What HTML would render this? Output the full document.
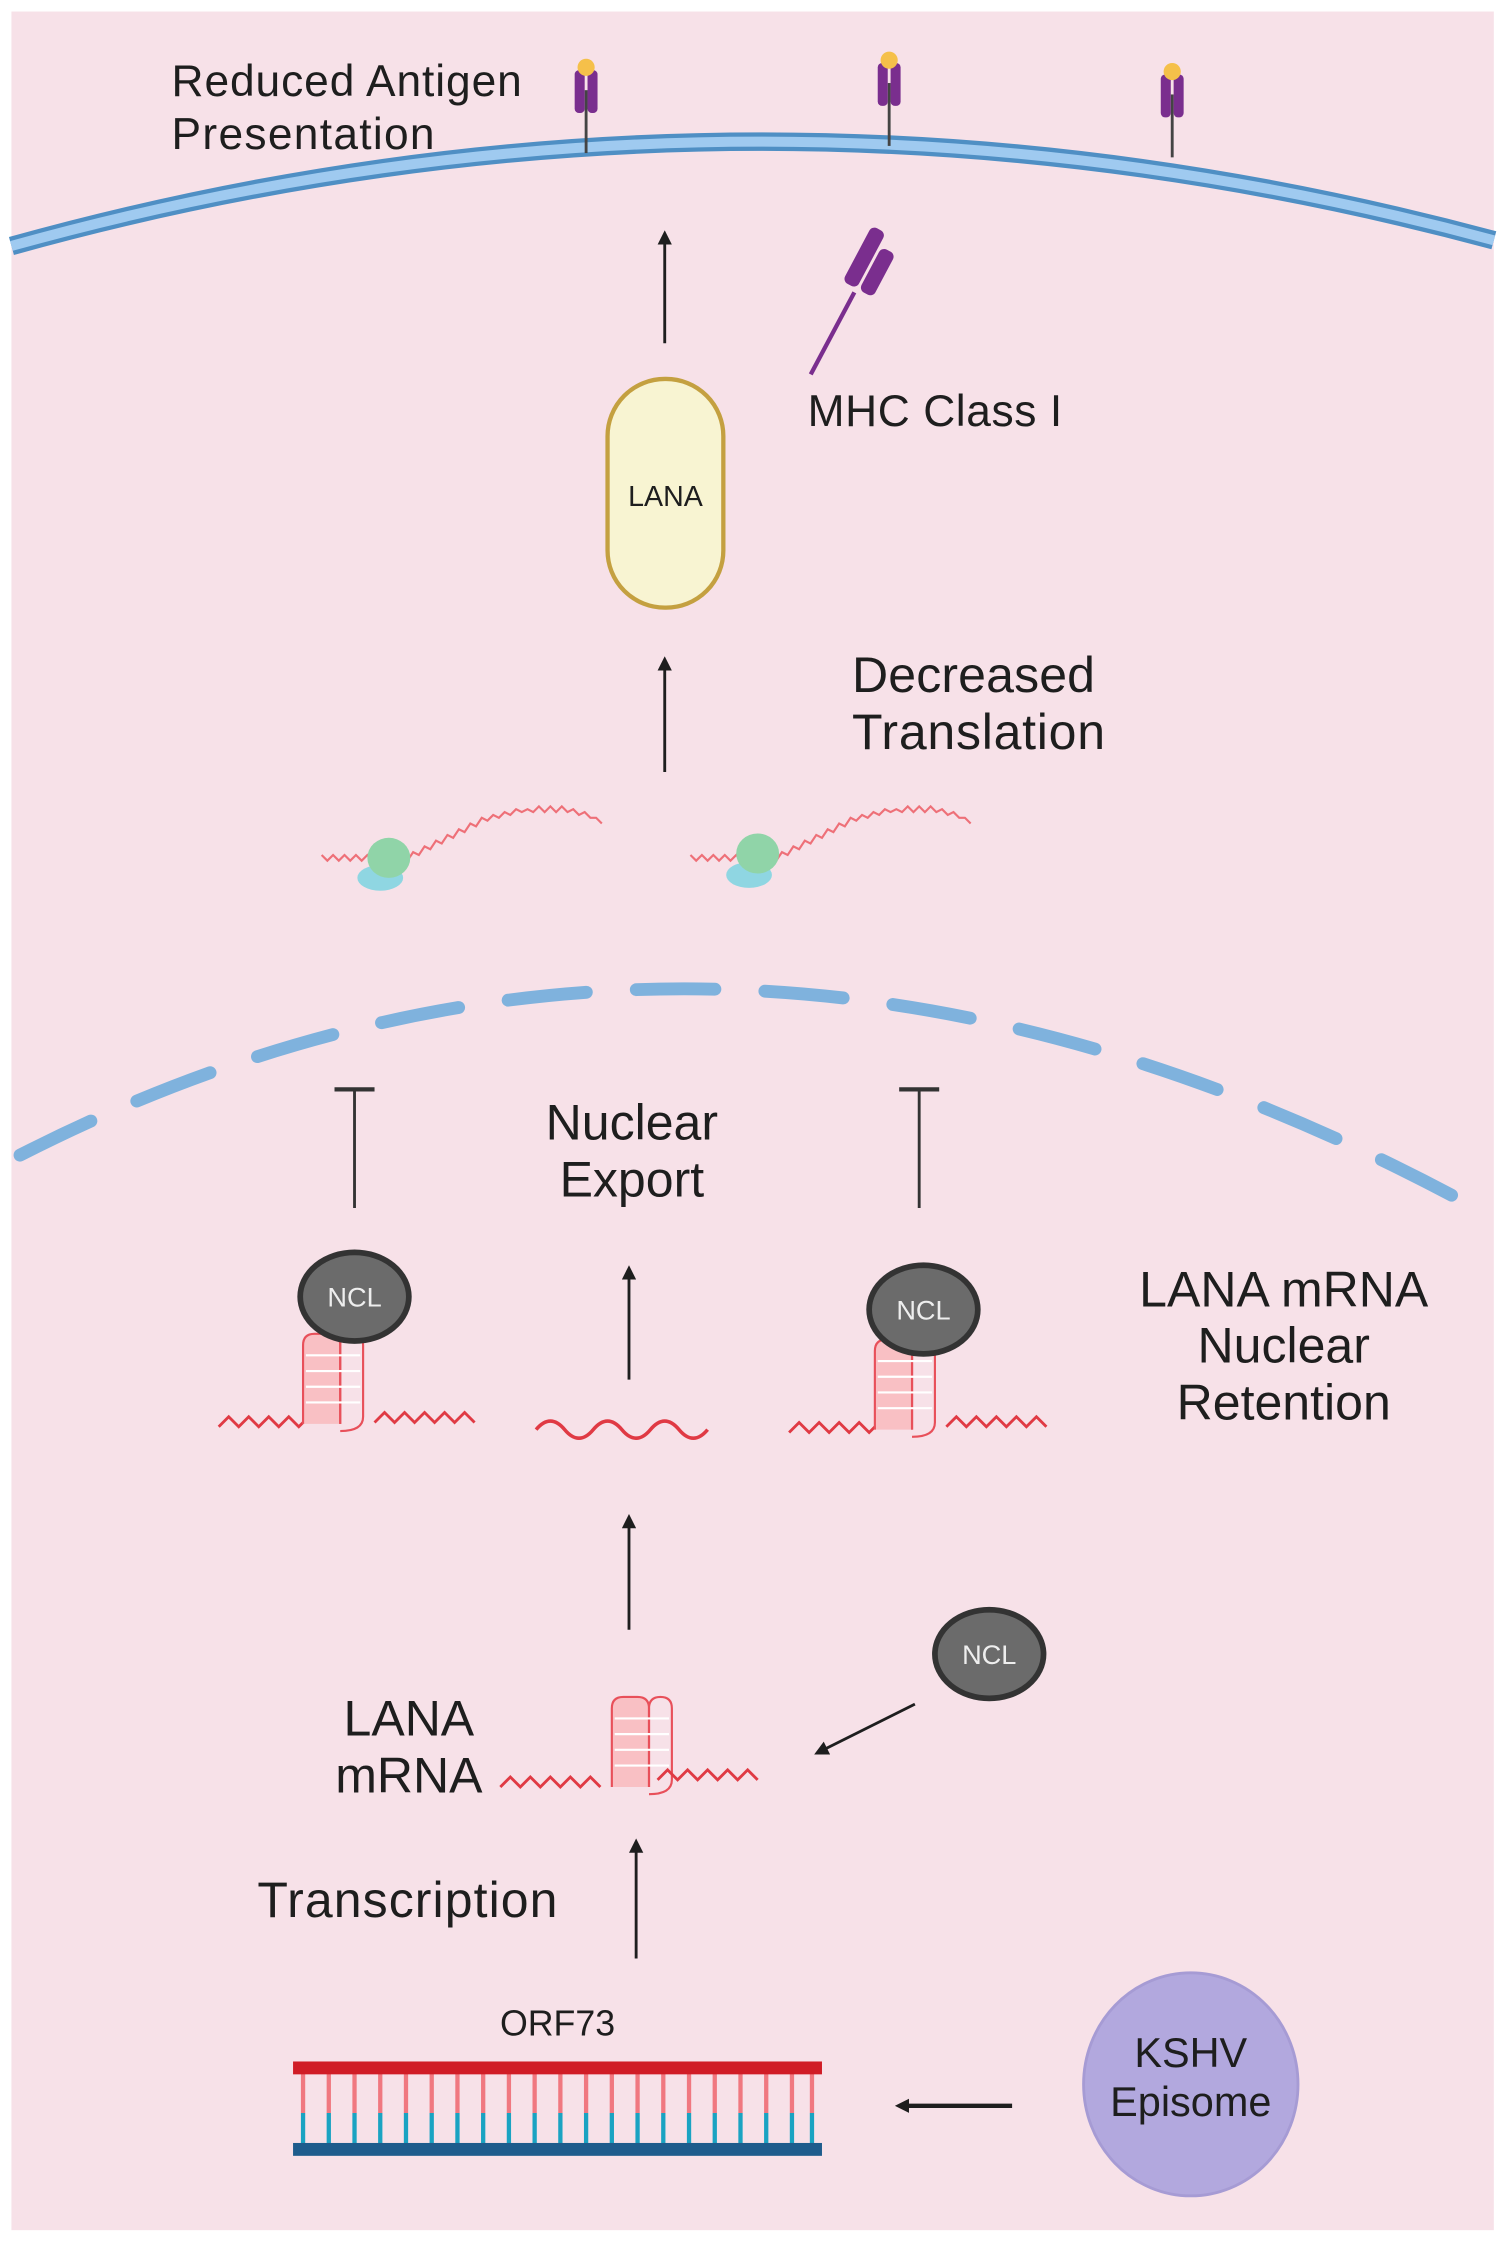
<!DOCTYPE html>
<html><head><meta charset="utf-8"><style>
html,body{margin:0;padding:0;background:#fff;}
svg{display:block;}
text{font-family:"Liberation Sans",sans-serif;fill:#1e1e1e;}
</style></head><body>
<svg width="1501" height="2246" viewBox="0 0 1050 1571" xmlns="http://www.w3.org/2000/svg">
<defs>
<marker id="ah" markerWidth="10" markerHeight="10" refX="5" refY="5" orient="auto" markerUnits="userSpaceOnUse" viewBox="0 0 10 10">
<path d="M0,0 L10,5 L0,10 z" fill="#1e1e1e"/></marker>
<g id="mhc">
<line x1="0" y1="18" x2="0" y2="62" stroke="#444" stroke-width="2"/>
<rect x="-8" y="4" width="7" height="30" rx="3" fill="#7a2e8e"/>
<rect x="1" y="4" width="7" height="30" rx="3" fill="#7a2e8e"/>
<circle cx="0" cy="2" r="6" fill="#f5c04a"/>
</g>
<g id="ncl"><ellipse cx="0" cy="0" rx="38" ry="31" fill="#6b6b6b" stroke="#333" stroke-width="4"/><text x="0" y="7" text-anchor="middle" font-size="19" style="fill:#eee">NCL</text></g>
<g id="g4">
<path d="M0,0 v-55 q0,-8 8,-8 h10 q8,0 8,8 v55" fill="#f9c0c4" stroke="#e8505a" stroke-width="1.5"/>
<path d="M26,0 v-55 q0,-8 8,-8 q8,0 8,8 v50 q0,10 -16,10" fill="none" stroke="#e8505a" stroke-width="1.5"/>
<g stroke="#fff" stroke-width="1.5"><line x1="2" y1="-48" x2="40" y2="-48"/><line x1="2" y1="-37" x2="40" y2="-37"/><line x1="2" y1="-26" x2="40" y2="-26"/><line x1="2" y1="-15" x2="40" y2="-15"/></g>
</g>
</defs>
<rect x="0" y="0" width="1050" height="1571" fill="#fff"/>
<rect x="8" y="8" width="1037" height="1552" fill="#f7e1e8"/>
<path d="M8,172 Q525,28 1045,168" fill="none" stroke="#4f8fc4" stroke-width="13"/>
<path d="M8,172 Q525,28 1045,168" fill="none" stroke="#9fcaf0" stroke-width="7"/>
<use href="#mhc" x="410" y="45"/>
<use href="#mhc" x="622" y="40"/>
<use href="#mhc" x="820" y="48"/>
<text x="120" y="67" font-size="31" textLength="245">Reduced Antigen</text>
<text x="120" y="104" font-size="31" textLength="184">Presentation</text>
<line x1="465" y1="240" x2="465" y2="166" stroke="#1e1e1e" stroke-width="2" marker-end="url(#ah)"/>
<g transform="translate(600,200) rotate(28)">
<line x1="0" y1="5" x2="0" y2="70" stroke="#7a2e8e" stroke-width="3"/>
<rect x="-11" y="-42" width="11" height="44" rx="4" fill="#7a2e8e"/>
<rect x="2" y="-32" width="11" height="34" rx="4" fill="#7a2e8e"/>
</g>
<text x="565" y="298" font-size="31" textLength="178">MHC Class I</text>
<rect x="425" y="265" width="81" height="160" rx="40" fill="#f8f4d2" stroke="#c4a040" stroke-width="3"/>
<text x="465.5" y="354" font-size="20" text-anchor="middle">LANA</text>
<line x1="465" y1="540" x2="465" y2="464" stroke="#1e1e1e" stroke-width="2" marker-end="url(#ah)"/>
<text x="596" y="484" font-size="35" textLength="170">Decreased</text>
<text x="596" y="524" font-size="35" textLength="177">Translation</text>
<g>
<path d="M225,598 l4,4 4,-4 4,4 4,-4 4,4 4,-4 4,4 4,-4 4,4 4,-4 4,4 4,-4 4,4 4,-4 4,4 4,-6 4,2 4,-6 4,2 4,-6 4,2 4,-6 4,2 4,-6 4,2 4,-6 4,2 4,-6 4,2 4,-4 4,2 4,-4 4,2 4,-4 4,2 4,-2 4,2 4,-4 4,4 4,-4 4,4 4,-4 4,4 4,-2 4,4 4,-2 4,4 4,0 4,4" fill="none" stroke="#ee7078" stroke-width="1.5"/>
<ellipse cx="266" cy="614" rx="16" ry="9" fill="#8fd6e2"/><ellipse cx="272" cy="600" rx="15" ry="14" fill="#90d4a8"/>
<path d="M483,598 l4,4 4,-4 4,4 4,-4 4,4 4,-4 4,4 4,-4 4,4 4,-4 4,4 4,-4 4,4 4,-4 4,4 4,-6 4,2 4,-6 4,2 4,-6 4,2 4,-6 4,2 4,-6 4,2 4,-6 4,2 4,-6 4,2 4,-4 4,2 4,-4 4,2 4,-4 4,2 4,-2 4,2 4,-4 4,4 4,-4 4,4 4,-4 4,4 4,-2 4,4 4,-2 4,4 4,0 4,4" fill="none" stroke="#ee7078" stroke-width="1.5"/>
<ellipse cx="524" cy="612" rx="16" ry="9" fill="#8fd6e2"/><ellipse cx="530" cy="597" rx="15" ry="14" fill="#90d4a8"/>
</g>
<path d="M14,808 Q510,555 1045,852" fill="none" stroke="#7fb2dd" stroke-width="9" stroke-dasharray="55,35" stroke-linecap="round"/>
<line x1="248" y1="845" x2="248" y2="762" stroke="#333" stroke-width="2"/><line x1="234" y1="762" x2="262" y2="762" stroke="#333" stroke-width="3"/>
<line x1="643" y1="845" x2="643" y2="762" stroke="#333" stroke-width="2"/><line x1="629" y1="762" x2="657" y2="762" stroke="#333" stroke-width="3"/>
<text x="442" y="797" font-size="35" text-anchor="middle">Nuclear</text>
<text x="442" y="837" font-size="35" text-anchor="middle">Export</text>
<path d="M153,998 l7,-7 7,7 7,-7 7,7 7,-7 7,7 7,-7 7,7 5,-5" fill="none" stroke="#e03a44" stroke-width="2"/>
<use href="#g4" x="212" y="996"/>
<path d="M262,995 l7,-7 7,7 7,-7 7,7 7,-7 7,7 7,-7 7,7 7,-7 7,7" fill="none" stroke="#e03a44" stroke-width="2"/>
<use href="#ncl" x="248" y="907"/>
<path d="M552,1002 l7,-7 7,7 7,-7 7,7 7,-7 7,7 7,-7 7,7 5,-5" fill="none" stroke="#e03a44" stroke-width="2"/>
<use href="#g4" x="612" y="1000"/>
<path d="M662,998 l7,-7 7,7 7,-7 7,7 7,-7 7,7 7,-7 7,7 7,-7 7,7" fill="none" stroke="#e03a44" stroke-width="2"/>
<use href="#ncl" x="646" y="916"/>
<path d="M375,1000 q10,-12 20,0 t20,0 t20,0 t20,0 t20,0 t20,0" fill="none" stroke="#e03a44" stroke-width="2.5"/>
<line x1="440" y1="965" x2="440" y2="890" stroke="#1e1e1e" stroke-width="2" marker-end="url(#ah)"/>
<text x="898" y="914" font-size="35" text-anchor="middle">LANA mRNA</text>
<text x="898" y="953" font-size="35" text-anchor="middle">Nuclear</text>
<text x="898" y="993" font-size="35" text-anchor="middle">Retention</text>
<line x1="440" y1="1140" x2="440" y2="1064" stroke="#1e1e1e" stroke-width="2" marker-end="url(#ah)"/>
<use href="#ncl" x="692" y="1157"/>
<line x1="640" y1="1192" x2="574" y2="1225" stroke="#1e1e1e" stroke-width="2" marker-end="url(#ah)"/>
<text x="286" y="1214" font-size="35" text-anchor="middle">LANA</text>
<text x="286" y="1254" font-size="35" text-anchor="middle">mRNA</text>
<path d="M350,1250 l7,-7 7,7 7,-7 7,7 7,-7 7,7 7,-7 7,7 7,-7 7,7" fill="none" stroke="#e03a44" stroke-width="2"/>
<use href="#g4" x="428" y="1250"/>
<path d="M460,1245 l7,-7 7,7 7,-7 7,7 7,-7 7,7 7,-7 7,7 7,-7 7,7" fill="none" stroke="#e03a44" stroke-width="2"/>
<text x="180" y="1341" font-size="35" textLength="210">Transcription</text>
<line x1="445" y1="1370" x2="445" y2="1291" stroke="#1e1e1e" stroke-width="2" marker-end="url(#ah)"/>
<text x="390" y="1424" font-size="25" text-anchor="middle">ORF73</text>
<g stroke-width="3">
<path d="M212,1450 V1478 M230,1450 V1478 M248,1450 V1478 M266,1450 V1478 M284,1450 V1478 M302,1450 V1478 M320,1450 V1478 M338,1450 V1478 M356,1450 V1478 M374,1450 V1478 M392,1450 V1478 M410,1450 V1478 M428,1450 V1478 M446,1450 V1478 M464,1450 V1478 M482,1450 V1478 M500,1450 V1478 M518,1450 V1478 M536,1450 V1478 M554,1450 V1478 M568,1450 V1478" stroke="#f07880"/>
<path d="M212,1478 V1500 M230,1478 V1500 M248,1478 V1500 M266,1478 V1500 M284,1478 V1500 M302,1478 V1500 M320,1478 V1500 M338,1478 V1500 M356,1478 V1500 M374,1478 V1500 M392,1478 V1500 M410,1478 V1500 M428,1478 V1500 M446,1478 V1500 M464,1478 V1500 M482,1478 V1500 M500,1478 V1500 M518,1478 V1500 M536,1478 V1500 M554,1478 V1500 M568,1478 V1500" stroke="#1aa3c2"/>
</g>
<rect x="205" y="1442" width="370" height="9" fill="#d01c26"/>
<rect x="205" y="1499" width="370" height="9" fill="#1e5c8c"/>
<line x1="708" y1="1473" x2="631" y2="1473" stroke="#1e1e1e" stroke-width="3" marker-end="url(#ah)"/>
<ellipse cx="833" cy="1458" rx="75" ry="78" fill="#b2a8de" stroke="#a69bd4" stroke-width="2"/>
<text x="833" y="1446" font-size="29" text-anchor="middle">KSHV</text>
<text x="833" y="1480" font-size="29" text-anchor="middle">Episome</text>
</svg>
</body></html>
